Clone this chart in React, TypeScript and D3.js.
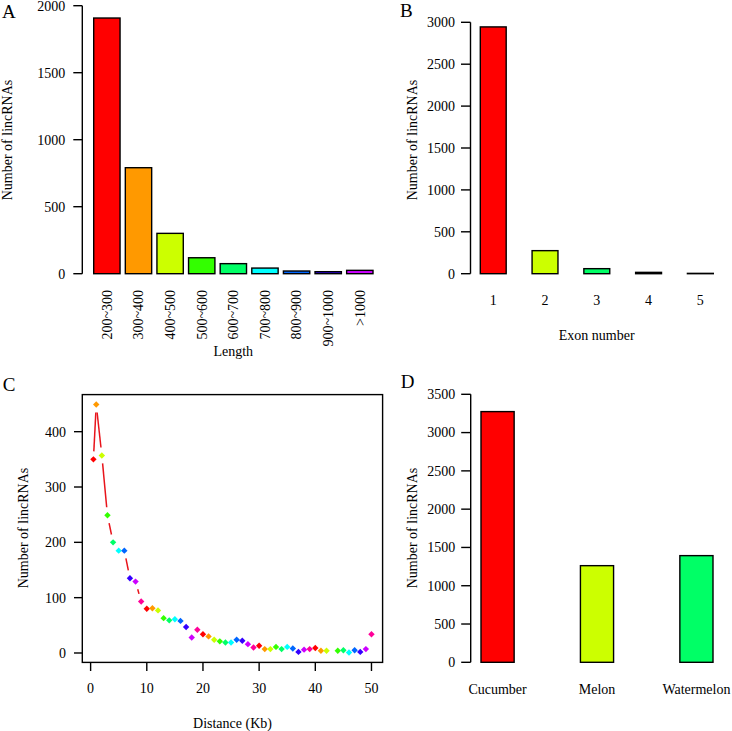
import React from "react";
import * as d3 from "d3";

// ---------- Data ----------
const rainbow10 = ["#FF0000", "#FF9900", "#CCFF00", "#33FF00", "#00FF66", "#00FFFF", "#0066FF", "#3300FF", "#CC00FF", "#FF0099"];
const rainbow5 = ["#FF0000", "#CCFF00", "#00FF66", "#0066FF", "#CC00FF"];

const lengthCats = ["200~300", "300~400", "400~500", "500~600", "600~700", "700~800", "800~900", "900~1000", ">1000"];
const lengthCounts = [1908, 791, 301, 119, 75, 42, 20, 15, 25];
const lengthTicks = [0, 500, 1000, 1500, 2000];

const exonCats = ["1", "2", "3", "4", "5"];
const exonCounts = [2945, 275, 60, 16, 4];
const exonTicks = [0, 500, 1000, 1500, 2000, 2500, 3000];

const distanceKb = [0.5, 1, 2, 3, 4, 5, 6, 7, 8, 9, 10, 11, 12, 13, 14, 15, 16, 17, 18, 19, 20, 21, 22, 23, 24, 25, 26, 27, 28, 29, 30, 31, 32, 33, 34, 35, 36, 37, 38, 39, 40, 41, 42, 44, 45, 46, 47, 48, 49, 50];
const distanceCounts = [350, 449, 357, 249, 200, 185, 185, 135, 129, 93, 80, 81, 77, 63, 59, 61, 58, 47, 28, 42, 34, 30, 24, 21, 19, 19, 24, 22, 16, 10, 13, 7, 7, 11, 7, 11, 8, 2, 6, 7, 9, 4, 4, 4, 5, 1, 5, 2, 7, 34];
const distanceXTicks = [0, 10, 20, 30, 40, 50];
const distanceYTicks = [0, 100, 200, 300, 400];

const speciesCats = ["Cucumber", "Melon", "Watermelon"];
const speciesCounts = [3274, 1262, 1393];
const speciesTicks = [0, 500, 1000, 1500, 2000, 2500, 3000, 3500];

const FONT = "'Liberation Serif', 'Times New Roman', serif";
const FS = 14;
const SW = 1.4;

function YAxis({ x, scale, ticks, tickLen, labelGap }: any) {
  const y0 = scale(ticks[0]);
  const y1 = scale(ticks[ticks.length - 1]);
  return (
    <g>
      <line x1={x} x2={x} y1={y0} y2={y1} stroke="#000" strokeWidth={SW} />
      {ticks.map((t: number) => (
        <g key={t}>
          <line x1={x - tickLen} x2={x} y1={scale(t)} y2={scale(t)} stroke="#000" strokeWidth={SW} />
          <text x={x - tickLen - labelGap} y={scale(t)} dy="0.35em" textAnchor="end" fontSize={FS} fontFamily={FONT}>{t}</text>
        </g>
      ))}
    </g>
  );
}

function YTitle({ x, y, text }: any) {
  return (
    <text transform={`translate(${x},${y}) rotate(-90)`} textAnchor="middle" fontSize={FS} fontFamily={FONT}>{text}</text>
  );
}

function PanelLetter({ x, y, text }: any) {
  return <text x={x} y={y} fontSize={19} fontFamily={FONT}>{text}</text>;
}

function Bars({ cats, vals, xs, ys, colors }: any) {
  return (
    <g>
      {cats.map((c: string, i: number) => (
        <rect key={c} x={xs(c)} y={ys(vals[i])} width={xs.bandwidth()} height={ys(0) - ys(vals[i])}
          fill={colors[i % colors.length]} stroke="#000" strokeWidth={SW} />
      ))}
    </g>
  );
}

function PanelA() {
  const ys = d3.scaleLinear().domain([0, 2000]).range([273.7, 5.7]);
  const xs = d3.scaleBand<string>().domain(lengthCats).range([93.7, 373]).paddingInner(0.2 / 1.2).paddingOuter(0);
  return (
    <g>
      <PanelLetter x={2} y={18} text="A" />
      <YAxis x={82.3} scale={ys} ticks={lengthTicks} tickLen={9} labelGap={8} />
      <Bars cats={lengthCats} vals={lengthCounts} xs={xs} ys={ys} colors={rainbow10} />
      {lengthCats.map((c) => (
        <text key={c} transform={`translate(${xs(c)! + xs.bandwidth() / 2},290) rotate(-90)`} textAnchor="end" dy="0.35em" fontSize={FS} fontFamily={FONT}>{c}</text>
      ))}
      <text x={233.3} y={356} textAnchor="middle" fontSize={FS} fontFamily={FONT}>Length</text>
      <YTitle x={12} y={140} text="Number of lincRNAs" />
    </g>
  );
}

function PanelB() {
  const ys = d3.scaleLinear().domain([0, 3000]).range([273.7, 22.3]);
  const xs = d3.scaleBand<string>().domain(exonCats).range([480.3, 713.3]).paddingInner(0.5).paddingOuter(0);
  return (
    <g>
      <PanelLetter x={400} y={17} text="B" />
      <YAxis x={470.5} scale={ys} ticks={exonTicks} tickLen={9.5} labelGap={6} />
      <Bars cats={exonCats} vals={exonCounts} xs={xs} ys={ys} colors={rainbow5} />
      {exonCats.map((c) => (
        <text key={c} x={xs(c)! + xs.bandwidth() / 2} y={305} textAnchor="middle" fontSize={FS} fontFamily={FONT}>{c}</text>
      ))}
      <text x={596.7} y={340} textAnchor="middle" fontSize={FS} fontFamily={FONT}>Exon number</text>
      <YTitle x={416.5} y={140} text="Number of lincRNAs" />
    </g>
  );
}

function PanelC() {
  const xs = d3.scaleLinear().domain([-1.48, 51.98]).range([82.3, 382.6]);
  const ys = d3.scaleLinear().domain([-17, 467]).range([662.4, 394.6]);
  const pts = distanceKb.map((d, i) => [xs(d), ys(distanceCounts[i])]);
  const gap = 8;
  const segs: any[] = [];
  for (let i = 0; i < pts.length - 1; i++) {
    const [x1, y1] = pts[i];
    const [x2, y2] = pts[i + 1];
    const dx = x2 - x1, dy = y2 - y1;
    const len = Math.hypot(dx, dy);
    if (len <= 2 * gap) continue;
    const ux = dx / len, uy = dy / len;
    segs.push(<line key={i} x1={x1 + ux * gap} y1={y1 + uy * gap} x2={x2 - ux * gap} y2={y2 - uy * gap} stroke="#E8141B" strokeWidth={1.5} />);
  }
  const r = 3.2;
  return (
    <g>
      <PanelLetter x={2.7} y={390.7} text="C" />
      <rect x={82.3} y={394.6} width={382.6 - 82.3} height={662.4 - 394.6} fill="none" stroke="#000" strokeWidth={SW} />
      {distanceXTicks.map((t) => (
        <g key={t}>
          <line x1={xs(t)} x2={xs(t)} y1={662.4} y2={671} stroke="#000" strokeWidth={SW} />
          <text x={xs(t)} y={693} textAnchor="middle" fontSize={FS} fontFamily={FONT}>{t}</text>
        </g>
      ))}
      {distanceYTicks.map((t) => (
        <g key={t}>
          <line x1={74} x2={82.3} y1={ys(t)} y2={ys(t)} stroke="#000" strokeWidth={SW} />
          <text x={66} y={ys(t)} dy="0.35em" textAnchor="end" fontSize={FS} fontFamily={FONT}>{t}</text>
        </g>
      ))}
      {segs}
      {pts.map(([x, y], i) => (
        <path key={i} d={`M${x},${y - r}L${x + r},${y}L${x},${y + r}L${x - r},${y}Z`} fill={rainbow10[i % 10]} />
      ))}
      <text x={232.5} y={728} textAnchor="middle" fontSize={FS} fontFamily={FONT}>Distance (Kb)</text>
      <YTitle x={28.3} y={528} text="Number of lincRNAs" />
    </g>
  );
}

function PanelD() {
  const ys = d3.scaleLinear().domain([0, 3500]).range([662.3, 394.3]);
  const xs = d3.scaleBand<string>().domain(speciesCats).range([481, 713]).paddingInner(2 / 3).paddingOuter(0);
  return (
    <g>
      <PanelLetter x={400.7} y={388.3} text="D" />
      <YAxis x={470.7} scale={ys} ticks={speciesTicks} tickLen={9.5} labelGap={6} />
      <Bars cats={speciesCats} vals={speciesCounts} xs={xs} ys={ys} colors={rainbow5} />
      {speciesCats.map((c) => (
        <text key={c} x={xs(c)! + xs.bandwidth() / 2} y={694} textAnchor="middle" fontSize={FS} fontFamily={FONT}>{c}</text>
      ))}
      <YTitle x={416.7} y={528} text="Number of lincRNAs" />
    </g>
  );
}

export default function App() {
  return (
    <svg width={732} height={731} viewBox="0 0 732 731" style={{ position: "absolute", left: 0, top: 0, background: "#fff" }}>
      <rect x={0} y={0} width={732} height={731} fill="#fff" />
      <PanelA />
      <PanelB />
      <PanelC />
      <PanelD />
    </svg>
  );
}
